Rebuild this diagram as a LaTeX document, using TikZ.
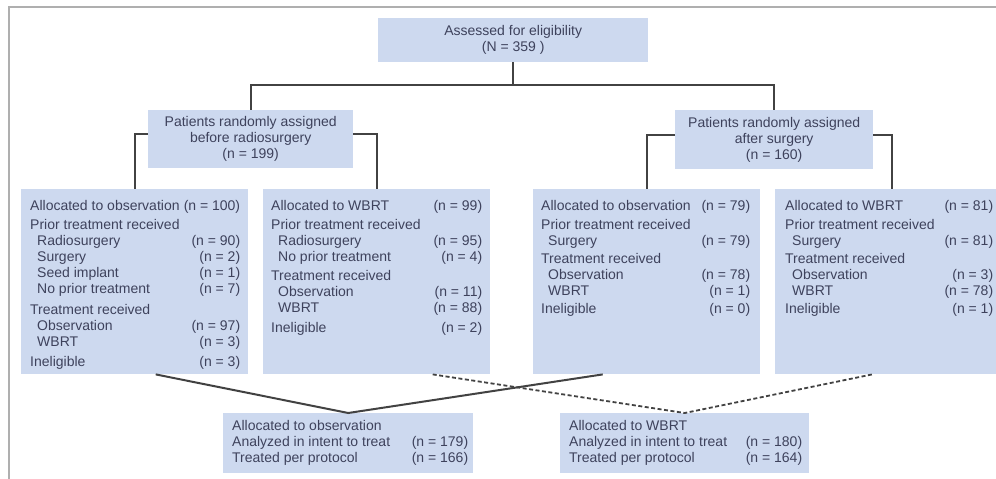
\documentclass[tikz,border=0pt]{standalone}
\usepackage{fontspec}
\setmainfont{Liberation Sans}
\usetikzlibrary{positioning}
\definecolor{boxfill}{RGB}{205,217,239}
\definecolor{inkc}{RGB}{62,66,92}
\definecolor{linec}{RGB}{66,66,66}
\definecolor{framec}{RGB}{175,175,175}
\newcommand{\ind}{\hspace*{7pt}}
\newcommand{\tabw}[1]{\begin{tabular*}{#1}{@{}l@{\extracolsep{\fill}}r@{}}}

\begin{document}
\begin{tikzpicture}[x=1pt,y=-1pt,
  box/.style={fill=boxfill,inner sep=0pt,anchor=north west},
  txt/.style={text=inkc,font=\fontsize{14}{16}\selectfont,inner sep=0pt},
  link/.style={draw=linec,line width=2pt},
  dlink/.style={draw=linec,line width=1.8pt,dash pattern=on 4pt off 2.5pt}]
\clip (0,0) rectangle (996,479);
\draw[framec,line width=2.5pt] (9,479) -- (9,7) -- (996,7);

% top of the chart
\node[box,txt,align=center,minimum width=270pt,minimum height=44pt] (elig) at (378,18)
  {Assessed for eligibility\\(N = 359 )};
\node[box,txt,align=center,minimum width=205pt,minimum height=58pt] (before) at (148,110)
  {Patients randomly assigned\\before radiosurgery\\(n = 199)};
\node[box,txt,align=center,minimum width=198pt,minimum height=59pt] (after) at (675,110)
  {Patients randomly assigned\\after surgery\\(n = 160)};

% the four arms
\node[box,minimum width=227pt,minimum height=185pt] (obs1) at (21,189) {};
\node[box,minimum width=227pt,minimum height=185pt] (wbrt1) at (263,189) {};
\node[box,minimum width=227pt,minimum height=185pt] (obs2) at (533,189) {};
\node[box,minimum width=234pt,minimum height=185pt] (wbrt2) at (775,189) {};

\node[txt,anchor=north west] (obs1t) at ([shift={(9,10)}]obs1.north west) {\tabw{210pt}
  Allocated to observation & (n = 100)\\[3pt]
  Prior treatment received & \\
  \ind Radiosurgery & (n = 90)\\
  \ind Surgery & (n = 2)\\
  \ind Seed implant & (n = 1)\\
  \ind No prior treatment & (n = 7)\\[5pt]
  Treatment received & \\
  \ind Observation & (n = 97)\\
  \ind WBRT & (n = 3)\\[4pt]
  Ineligible & (n = 3)
\end{tabular*}};
\node[txt,anchor=north west] (wbrt1t) at ([shift={(8,10)}]wbrt1.north west) {\tabw{211pt}
  Allocated to WBRT & (n = 99)\\[3pt]
  Prior treatment received & \\
  \ind Radiosurgery & (n = 95)\\
  \ind No prior treatment & (n = 4)\\[3pt]
  Treatment received & \\
  \ind Observation & (n = 11)\\
  \ind WBRT & (n = 88)\\[4pt]
  Ineligible & (n = 2)
\end{tabular*}};
\node[txt,anchor=north west] (obs2t) at ([shift={(8,10)}]obs2.north west) {\tabw{209pt}
  Allocated to observation & (n = 79)\\[3pt]
  Prior treatment received & \\
  \ind Surgery & (n = 79)\\[2pt]
  Treatment received & \\
  \ind Observation & (n = 78)\\
  \ind WBRT & (n = 1)\\[2pt]
  Ineligible & (n = 0)
\end{tabular*}};
\node[txt,anchor=north west] (wbrt2t) at ([shift={(10,10)}]wbrt2.north west) {\tabw{208pt}
  Allocated to WBRT & (n = 81)\\[3pt]
  Prior treatment received & \\
  \ind Surgery & (n = 81)\\[2pt]
  Treatment received & \\
  \ind Observation & (n = 3)\\
  \ind WBRT & (n = 78)\\[2pt]
  Ineligible & (n = 1)
\end{tabular*}};

% analysis boxes
\node[box,minimum width=250pt,minimum height=60pt] (obsall) at (223,413) {};
\node[box,minimum width=249pt,minimum height=60pt] (wbrtall) at (560,413) {};
\node[txt,anchor=west] (obsallt) at ([xshift=9pt]obsall.west) {\tabw{236pt}
  Allocated to observation & \\
  Analyzed in intent to treat & (n = 179)\\
  Treated per protocol & (n = 166)
\end{tabular*}};
\node[txt,anchor=west] (wbrtallt) at ([xshift=9pt]wbrtall.west) {\tabw{233pt}
  Allocated to WBRT & \\
  Analyzed in intent to treat & (n = 180)\\
  Treated per protocol & (n = 164)
\end{tabular*}};

% connectors
\draw[link] (elig.south) -- ++(0,23) -| (before.north);
\draw[link] (elig.south) ++(0,23) -| (after.north);
\draw[link] ([yshift=5pt]before.west) -| (obs1.north);
\draw[link] ([yshift=5pt]before.east) -| (wbrt1.north);
\draw[link] ([yshift=5pt]after.west) -| (obs2.north);
\draw[link] ([yshift=5pt]after.east) -| (wbrt2.north);
\draw[link] ([xshift=21pt]obs1.south) -- (obsall.north) -- ([xshift=-44pt]obs2.south);
\draw[dlink] ([xshift=56pt]wbrt1.south) -- (wbrtall.north) -- ([xshift=-20pt]wbrt2.south);
\end{tikzpicture}
\end{document}
